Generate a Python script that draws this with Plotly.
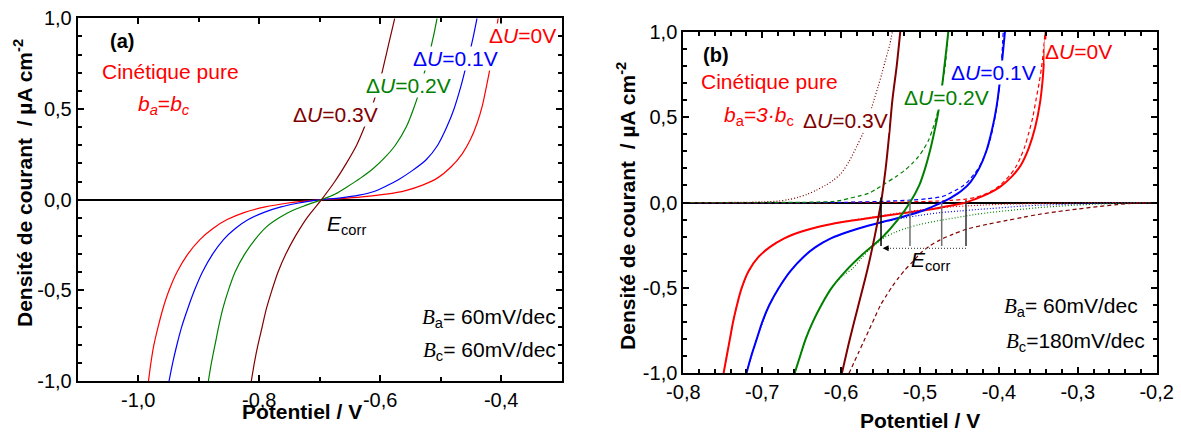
import plotly.graph_objects as go

# ---------------- Panel (a) data ----------------
a_red_x = [-0.983, -0.979, -0.974, -0.967, -0.959, -0.949, -0.936, -0.918, -0.898, -0.877, -0.853, -0.824,
           -0.79, -0.755, -0.725, -0.697, -0.665, -0.63, -0.59, -0.558, -0.53, -0.505, -0.483, -0.465,
           -0.451, -0.44, -0.431, -0.424, -0.417, -0.411, -0.405]
a_red_y = [-1.0, -0.9, -0.8, -0.7, -0.6, -0.5, -0.4, -0.3, -0.22, -0.16, -0.11, -0.07,
           -0.04, -0.02, -0.008, 0.0, 0.006, 0.015, 0.03, 0.05, 0.08, 0.12, 0.18, 0.25,
           0.33, 0.42, 0.52, 0.63, 0.75, 0.87, 1.0]
a_blue_x = [-0.949, -0.943, -0.936, -0.928, -0.918, -0.907, -0.894, -0.877, -0.859, -0.84, -0.818, -0.792,
            -0.764, -0.737, -0.717, -0.697, -0.665, -0.635, -0.61, -0.59, -0.57, -0.547, -0.524, -0.505, -0.49,
            -0.478, -0.467, -0.457, -0.448, -0.44]
a_blue_y = [-1.0, -0.9, -0.8, -0.7, -0.6, -0.5, -0.4, -0.3, -0.22, -0.16, -0.11, -0.07,
            -0.04, -0.02, -0.008, 0.0, 0.01, 0.025, 0.045, 0.075, 0.11, 0.16, 0.22, 0.3, 0.4,
            0.5, 0.62, 0.75, 0.87, 1.0]
a_green_x = [-0.884, -0.879, -0.873, -0.867, -0.86, -0.851, -0.84, -0.824, -0.807, -0.788, -0.767, -0.745,
             -0.722, -0.697, -0.675, -0.655, -0.632, -0.612, -0.593, -0.575, -0.557, -0.545, -0.535,
             -0.527, -0.519, -0.512, -0.506]
a_green_y = [-1.0, -0.9, -0.8, -0.7, -0.6, -0.5, -0.4, -0.3, -0.22, -0.15, -0.1, -0.06,
             -0.03, 0.0, 0.03, 0.07, 0.12, 0.17, 0.23, 0.3, 0.4, 0.5, 0.6,
             0.7, 0.8, 0.9, 1.0]
a_brown_x = [-0.813, -0.808, -0.802, -0.795, -0.788, -0.779, -0.769, -0.756, -0.74, -0.721, -0.697,
             -0.675, -0.656, -0.639, -0.626, -0.615, -0.605, -0.597, -0.59, -0.583, -0.576]
a_brown_y = [-1.0, -0.9, -0.8, -0.7, -0.6, -0.5, -0.4, -0.3, -0.2, -0.1, 0.0,
             0.1, 0.2, 0.3, 0.4, 0.5, 0.6, 0.7, 0.8, 0.9, 1.0]

# ---------------- Panel (b) data ----------------
# solid: total current
b_red_x = [-0.749, -0.745, -0.741, -0.737, -0.732, -0.726, -0.717, -0.705, -0.69, -0.672, -0.65, -0.627,
           -0.60, -0.57, -0.54, -0.51, -0.48, -0.46, -0.442, -0.43, -0.414, -0.399, -0.384, -0.372,
           -0.362, -0.354, -0.348, -0.3445, -0.3425, -0.3407]
b_red_y = [-1.0, -0.9, -0.8, -0.7, -0.6, -0.5, -0.4, -0.32, -0.26, -0.21, -0.17, -0.14,
           -0.115, -0.095, -0.075, -0.055, -0.035, -0.017, 0.0, 0.02, 0.05, 0.09, 0.15, 0.22,
           0.32, 0.44, 0.58, 0.72, 0.86, 1.0]
b_blue_x = [-0.72, -0.714, -0.707, -0.70, -0.691, -0.679, -0.664, -0.648, -0.632, -0.613, -0.59, -0.565,
            -0.54, -0.515, -0.495, -0.482, -0.4725, -0.46, -0.447, -0.436, -0.425, -0.416, -0.409,
            -0.403, -0.399, -0.3955, -0.3923]
b_blue_y = [-1.0, -0.9, -0.8, -0.7, -0.6, -0.5, -0.4, -0.32, -0.26, -0.21, -0.17, -0.135,
            -0.105, -0.075, -0.045, -0.02, 0.0, 0.03, 0.07, 0.12, 0.2, 0.3, 0.42,
            0.56, 0.7, 0.85, 1.0]
b_green_x = [-0.659, -0.652, -0.645, -0.636, -0.625, -0.612, -0.594, -0.572, -0.547, -0.528, -0.5127,
             -0.501, -0.4935, -0.4875, -0.4825, -0.478, -0.4745, -0.4715, -0.469, -0.4665, -0.4641]
b_green_y = [-1.0, -0.9, -0.8, -0.7, -0.6, -0.5, -0.4, -0.3, -0.2, -0.1, 0.0,
             0.1, 0.2, 0.3, 0.4, 0.5, 0.6, 0.7, 0.8, 0.9, 1.0]
b_brown_x = [-0.599, -0.589, -0.578, -0.567, -0.5575, -0.5494, -0.5435, -0.539, -0.535, -0.5295, -0.525]
b_brown_y = [-1.0, -0.8, -0.6, -0.4, -0.2, 0.0, 0.2, 0.4, 0.6, 0.8, 1.0]

# anodic partial currents
b_red_an_x = [-0.80, -0.60, -0.52, -0.48, -0.46, -0.442, -0.43, -0.42, -0.41, -0.40, -0.393, -0.386,
              -0.379, -0.373, -0.367, -0.362, -0.357, -0.353, -0.349, -0.346, -0.3435, -0.3415]
b_red_an_y = [0.0, 0.0, 0.003, 0.008, 0.013, 0.02, 0.03, 0.044, 0.066, 0.095, 0.125, 0.16,
              0.205, 0.26, 0.33, 0.41, 0.50, 0.60, 0.70, 0.79, 0.89, 1.0]
b_blue_an_x = [-0.80, -0.60, -0.54, -0.51, -0.4905, -0.4725, -0.466, -0.46, -0.453, -0.447, -0.441, -0.436,
               -0.431, -0.426, -0.421, -0.416, -0.411, -0.407, -0.403, -0.400, -0.397, -0.3945]
b_blue_an_y = [0.0, 0.001, 0.008, 0.015, 0.022, 0.034, 0.045, 0.06, 0.076, 0.093, 0.115, 0.14,
               0.168, 0.20, 0.245, 0.30, 0.37, 0.45, 0.55, 0.65, 0.80, 1.0]
b_green_an_x = [-0.80, -0.65, -0.63, -0.61, -0.60, -0.59, -0.578, -0.565, -0.555, -0.544, -0.531, -0.519,
                -0.51, -0.502, -0.495, -0.489, -0.484, -0.479, -0.476, -0.473, -0.4705, -0.468, -0.466, -0.4645]
b_green_an_y = [0.0, 0.001, 0.003, 0.006, 0.013, 0.024, 0.037, 0.054, 0.08, 0.112, 0.15, 0.19,
                0.228, 0.268, 0.315, 0.366, 0.43, 0.503, 0.575, 0.65, 0.725, 0.80, 0.9, 1.0]
b_brown_an_x = [-0.80, -0.72, -0.70, -0.68, -0.667, -0.655, -0.643, -0.631, -0.62, -0.61, -0.60, -0.59,
                -0.58, -0.572, -0.565, -0.559, -0.553, -0.548, -0.544, -0.541, -0.5385, -0.535]
b_brown_an_y = [0.0, 0.001, 0.004, 0.008, 0.017, 0.03, 0.048, 0.073, 0.10, 0.13, 0.17, 0.24,
                0.33, 0.41, 0.50, 0.59, 0.68, 0.76, 0.83, 0.88, 0.92, 1.0]

# cathodic partial currents
b_red_ca_x = [-0.749, -0.741, -0.732, -0.726, -0.717, -0.705, -0.69, -0.672, -0.65, -0.627, -0.60, -0.57,
              -0.54, -0.51, -0.483, -0.462, -0.442, -0.42, -0.40, -0.375, -0.35, -0.325, -0.30, -0.275,
              -0.25, -0.225, -0.20]
b_red_ca_y = [-1.0, -0.8, -0.6, -0.5, -0.4, -0.32, -0.26, -0.21, -0.17, -0.14, -0.115, -0.092,
              -0.07, -0.05, -0.035, -0.026, -0.02, -0.015, -0.011, -0.008, -0.006, -0.004, -0.003, -0.002,
              -0.001, -0.0005, 0.0]
b_blue_ca_x = [-0.72, -0.707, -0.691, -0.679, -0.664, -0.648, -0.632, -0.613, -0.59, -0.565, -0.54, -0.52,
               -0.50, -0.4725, -0.45, -0.43, -0.41, -0.39, -0.37, -0.35, -0.325, -0.30, -0.275, -0.25, -0.225, -0.20]
b_blue_ca_y = [-1.0, -0.8, -0.6, -0.5, -0.4, -0.32, -0.26, -0.21, -0.17, -0.135, -0.108, -0.09,
               -0.075, -0.058, -0.05, -0.042, -0.035, -0.028, -0.021, -0.016, -0.012, -0.008, -0.005, -0.003, -0.001, 0.0]
b_green_ca_x = [-0.659, -0.652, -0.645, -0.636, -0.625, -0.612, -0.598, -0.585, -0.575, -0.565, -0.555, -0.545,
                -0.532, -0.517, -0.50, -0.475, -0.452, -0.43, -0.41, -0.39, -0.37, -0.35, -0.328, -0.306,
                -0.28, -0.25, -0.225, -0.20]
b_green_ca_y = [-1.0, -0.9, -0.8, -0.7, -0.6, -0.5, -0.43, -0.385, -0.33, -0.28, -0.24, -0.205,
                -0.175, -0.15, -0.128, -0.105, -0.087, -0.07, -0.058, -0.048, -0.039, -0.03, -0.023, -0.016,
                -0.01, -0.005, -0.002, 0.0]
b_brown_ca_x = [-0.59, -0.584, -0.578, -0.571, -0.565, -0.557, -0.55, -0.542, -0.535, -0.527, -0.52, -0.51,
                -0.50, -0.488, -0.475, -0.458, -0.44, -0.415, -0.39, -0.37, -0.35, -0.325, -0.30, -0.275,
                -0.25, -0.225, -0.20]
b_brown_ca_y = [-1.0, -0.94, -0.88, -0.81, -0.75, -0.67, -0.60, -0.54, -0.49, -0.44, -0.40, -0.35,
                -0.30, -0.255, -0.22, -0.185, -0.155, -0.128, -0.105, -0.087, -0.07, -0.053, -0.038, -0.024,
                -0.012, -0.004, 0.0]

# corrosion potentials marked in (b)
b_ecorr_x = [-0.5494, -0.5127, -0.4725, -0.4417]
b_ecorr_top = [0.03, 0.0, 0.0, 0.015]
b_ecorr_bottom = -0.255
b_arrow_y = -0.268

# tick labels
a_xticks = [-1.0, -0.8, -0.6, -0.4]
a_xlabels = ["-1,0", "-0,8", "-0,6", "-0,4"]
b_xticks = [-0.8, -0.7, -0.6, -0.5, -0.4, -0.3, -0.2]
b_xlabels = ["-0,8", "-0,7", "-0,6", "-0,5", "-0,4", "-0,3", "-0,2"]
yticks = [-1.0, -0.5, 0.0, 0.5, 1.0]
ylabels = ["-1,0", "-0,5", "0,0", "0,5", "1,0"]

RED, BLUE, GREEN, BROWN = "#ff0000", "#0000ff", "#008000", "#800000"
FONT = "Liberation Sans, Arial, sans-serif"

fig = go.Figure()

def add(x, y, color, width, dash, xa, ya):
    fig.add_trace(go.Scatter(x=x, y=y, mode="lines", xaxis=xa, yaxis=ya, showlegend=False,
                             line=dict(color=color, width=width, dash=dash, shape="spline", smoothing=0.8),
                             hoverinfo="skip"))

for x, y, c in [(a_red_x, a_red_y, RED), (a_blue_x, a_blue_y, BLUE),
                (a_green_x, a_green_y, GREEN), (a_brown_x, a_brown_y, BROWN)]:
    add(x, y, c, 1.2, "solid", "x", "y")

# (b) partial currents first
for x, y, c, d in [(b_red_an_x, b_red_an_y, RED, "dash"), (b_blue_an_x, b_blue_an_y, BLUE, "dash"),
                   (b_green_an_x, b_green_an_y, GREEN, "dash"), (b_brown_an_x, b_brown_an_y, BROWN, "dot"),
                   (b_red_ca_x, b_red_ca_y, RED, "dot"), (b_blue_ca_x, b_blue_ca_y, BLUE, "dot"),
                   (b_green_ca_x, b_green_ca_y, GREEN, "dot"), (b_brown_ca_x, b_brown_ca_y, BROWN, "dash")]:
    add(x, y, c, 1.2, "4px,3px" if d == "dash" else "1px,2px", "x2", "y2")

for x, y, c in [(b_red_x, b_red_y, RED), (b_blue_x, b_blue_y, BLUE),
                (b_green_x, b_green_y, GREEN), (b_brown_x, b_brown_y, BROWN)]:
    add(x, y, c, 2, "solid", "x2", "y2")

# Ecorr vertical markers in (b)
for ex, et, col in zip(b_ecorr_x, b_ecorr_top, ["#000000", "#707070", "#707070", "#303030"]):
    fig.add_trace(go.Scatter(x=[ex, ex], y=[et, b_ecorr_bottom], mode="lines", xaxis="x2", yaxis="y2",
                             line=dict(color=col, width=1.5), showlegend=False, hoverinfo="skip"))
fig.add_trace(go.Scatter(x=[b_ecorr_x[-1], b_ecorr_x[0] + 0.006], y=[b_arrow_y, b_arrow_y], mode="lines",
                         xaxis="x2", yaxis="y2", line=dict(color="#555555", width=1.2, dash="1px,2px"),
                         showlegend=False, hoverinfo="skip"))

def axis_common():
    return dict(showline=True, linecolor="black", linewidth=2, mirror="allticks",
                ticks="inside", ticklen=6, tickwidth=1.5, tickcolor="black",
                showgrid=False, zeroline=False, automargin=False,
                tickfont=dict(family=FONT, size=20, color="black"))

xa = axis_common()
xa.update(domain=[0.0658, 0.4756], range=[-1.1, -0.3], tickmode="array", tickvals=a_xticks, ticktext=a_xlabels,
          minor=dict(ticks="inside", ticklen=4, tickmode="linear", tick0=-1.1, dtick=0.2, tickcolor="black"),
          anchor="y")
ya = axis_common()
ya.update(domain=[0.1241, 0.958], range=[-1.0, 1.0], tickmode="array", tickvals=yticks, ticktext=ylabels,
          minor=dict(ticks="inside", ticklen=4, tickmode="linear", tick0=0, dtick=0.1, tickcolor="black"),
          zeroline=True, zerolinecolor="black", zerolinewidth=2, anchor="x")
xb = axis_common()
xb.update(domain=[0.5786, 0.9794], range=[-0.8, -0.2], tickmode="array", tickvals=b_xticks, ticktext=b_xlabels,
          minor=dict(ticks="inside", ticklen=4, tickmode="linear", tick0=-0.8, dtick=0.02, tickcolor="black"),
          anchor="y2")
yb = axis_common()
yb.update(domain=[0.1418, 0.9271], range=[-1.0, 1.0], tickmode="array", tickvals=yticks, ticktext=ylabels,
          minor=dict(ticks="inside", ticklen=4, tickmode="linear", tick0=0, dtick=0.1, tickcolor="black"),
          zeroline=True, zerolinecolor="black", zerolinewidth=2, anchor="x2")

ann = []
def txt(x, y, text, color="black", size=21, xref="x", yref="y", xanchor="center", bg=None, **kw):
    d = dict(x=x, y=y, xref=xref, yref=yref, text=text, showarrow=False, xanchor=xanchor, yanchor="middle",
             font=dict(family=FONT, size=size, color=color))
    if bg:
        d.update(bgcolor=bg, borderpad=0)
    d.update(kw)
    ann.append(d)

DU = "\u0394<i>U</i>="
BB = "<span style='font-family:Liberation Serif'><i>B</i></span>"
# panel (a)
txt(-1.0268, 0.874, "<b>(a)</b>", size=20)
txt(-0.9474, 0.709, "Cinétique pure", RED)
txt(-0.9573, 0.52, "<i>b</i><sub><i>a</i></sub>=<i>b</i><sub><i>c</i></sub>", RED)
txt(-0.6745, 0.472, DU + "0.3V", BROWN, bg="white")
txt(-0.554, 0.632, DU + "0.2V", GREEN, bg="white")
txt(-0.4763, 0.78, DU + "0.1V", BLUE, bg="white")
txt(-0.3655, 0.907, DU + "0V", RED, bg="white")
txt(-0.655, -0.14, "<i>E</i><sub>corr</sub>")
txt(-0.306, -0.655, BB + "<sub>a</sub>= 60mV/dec", xanchor="right")
txt(-0.306, -0.835, BB + "<sub>c</sub>= 60mV/dec", xanchor="right")
# panel (b)
txt(-0.7588, 0.8636, "<b>(b)</b>", size=20, xref="x2", yref="y2")
txt(-0.6912, 0.7113, "Cinétique pure", RED, xref="x2", yref="y2")
txt(-0.7041, 0.505, "<i>b</i><sub>a</sub><i>=3·b</i><sub>c</sub>", RED, xref="x2", yref="y2")
txt(-0.595, 0.4825, DU + "0.3V", BROWN, xref="x2", yref="y2", bg="white")
txt(-0.4658, 0.6171, DU + "0.2V", GREEN, xref="x2", yref="y2", bg="white")
txt(-0.4062, 0.764, DU + "0.1V", BLUE, xref="x2", yref="y2", bg="white")
txt(-0.2985, 0.887, DU + "0V", RED, xref="x2", yref="y2", bg="white")
txt(-0.4872, -0.345, "<i>E</i><sub>corr</sub>", xref="x2", yref="y2")
txt(-0.2213, -0.61, BB + "<sub>a</sub>= 60mV/dec", xref="x2", yref="y2", xanchor="right")
txt(-0.2124, -0.815, BB + "<sub>c</sub>=180mV/dec", xref="x2", yref="y2", xanchor="right")
# arrow head
ann.append(dict(x=b_ecorr_x[0] + 0.002, y=b_arrow_y, ax=b_ecorr_x[0] + 0.012, ay=b_arrow_y,
                xref="x2", yref="y2", axref="x2", ayref="y2", text="", showarrow=True,
                arrowhead=2, arrowsize=1, arrowwidth=1.2, arrowcolor="black"))
# axis titles
ytitle = "<b>Densité de courant\u00a0 / µA cm<sup>-2</sup></b>"
txt(0.0195, 1 - 183 / 435, ytitle, size=21, xref="paper", yref="paper", textangle=-90)
txt(0.530, 1 - 206 / 435, ytitle, size=21, xref="paper", yref="paper", textangle=-90)
txt(302 / 1181, 1 - 411 / 435, "<b>Potentiel / V</b>", size=21, xref="paper", yref="paper")
txt(920 / 1181, 1 - 420 / 435, "<b>Potentiel / V</b>", size=21, xref="paper", yref="paper")

fig.update_layout(width=1181, height=435, margin=dict(l=0, r=0, t=0, b=0, autoexpand=False),
                  paper_bgcolor="white", plot_bgcolor="white",
                  xaxis=xa, yaxis=ya, xaxis2=xb, yaxis2=yb, annotations=ann,
                  font=dict(family=FONT, color="black"))

fig.write_html("out.html", config={"displayModeBar": False},
               post_script="document.body.style.margin='0';document.body.style.overflow='hidden';")
